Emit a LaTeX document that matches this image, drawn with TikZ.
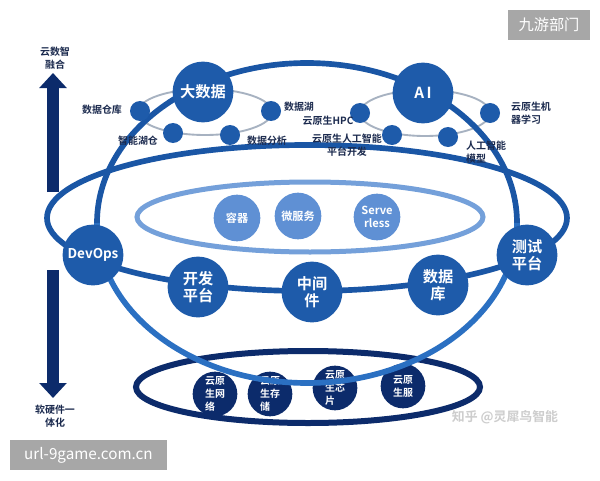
\documentclass[tikz,border=0pt]{standalone}
\usepackage{fontspec}
\setmainfont{Noto Sans CJK SC}[BoldFont={Noto Sans CJK SC Bold}]
\usetikzlibrary{arrows.meta}
\definecolor{navy}{HTML}{0C2B6B}
\definecolor{hubblue}{HTML}{1E5BAA}
\definecolor{orbitdark}{HTML}{1A56A5}
\definecolor{orbitlight}{HTML}{2B70C2}
\definecolor{cloudline}{HTML}{74A0DA}
\definecolor{cloudfill}{HTML}{5F90D4}
\definecolor{ringgray}{HTML}{A7B2C1}
\definecolor{labelink}{HTML}{1B2A4E}
\definecolor{stampgray}{HTML}{A7A7A7}
\definecolor{faintgray}{HTML}{CDCDCD}
\tikzset{
  hubnode/.style={circle, fill=hubblue, text=white, minimum size=1.82cm, inner sep=0pt, align=center, font=\bfseries\fontsize{13}{14.5}\selectfont},
  satnode/.style={circle, fill=hubblue, minimum size=0.6cm, inner sep=0pt},
  cloudnode/.style={circle, fill=cloudfill, text=white, minimum size=1.4cm, inner sep=0pt, align=center, font=\bfseries\fontsize{9.5}{11}\selectfont},
  basenode/.style={circle, fill=navy, text=white, minimum size=1.34cm, inner sep=0pt, align=left, font=\bfseries\fontsize{8.5}{11}\selectfont},
  ringlabel/.style={text=labelink, align=center, inner sep=0pt, font=\bfseries\fontsize{8.5}{11.5}\selectfont},
  axislabel/.style={text=labelink, align=center, inner sep=0pt, font=\bfseries\fontsize{8.5}{11}\selectfont},
  ringorbit/.style={draw=ringgray, line width=1.6pt},
  cloudorbit/.style={draw=cloudline, line width=0.15cm},
  equator/.style={draw=orbitdark, line width=0.17cm},
  baseorbit/.style={draw=navy, line width=0.18cm},
  trendarrow/.style={draw=navy, line width=0.36cm, -{Triangle[width=0.8cm,length=0.45cm]}},
  stamp/.style={fill=stampgray, text=white, inner sep=0pt, minimum height=0.9cm, font=\fontsize{13}{15}\selectfont},
  faintmark/.style={text=faintgray, inner sep=0pt, font=\bfseries\fontsize{11}{13}\selectfont}
}
\begin{document}
\begin{tikzpicture}[x=0.03cm,y=-0.03cm]
\useasboundingbox[fill=white] (0,0) rectangle (600,480);
\draw[baseorbit] (308,387) ellipse [x radius=172, y radius=36];
\node[basenode] (net) at (215,394) {云原\\生网\\络};
\node[basenode] (store) at (270,394) {云原\\生存\\储};
\node[basenode] (chip) at (335,388) {云原\\生芯\\片};
\node[basenode] (service) at (403,386) {云原\\生服};
\draw[cloudorbit] (310,217) ellipse [x radius=173, y radius=35];
\node[cloudnode] (container) at (237,218) {容器};
\node[cloudnode] (micro) at (298,216) {微服务};
\node[cloudnode] (serverless) at (377,217) {Serve\\rless};
\draw[ringorbit] (205,112) ellipse [x radius=67, y radius=23];
\draw[ringorbit] (425,113) ellipse [x radius=65, y radius=23];
\draw[equator] (307,218) ellipse [x radius=260, y radius=73];
\draw[draw=orbitdark, line width=0.17cm] (97,223) arc [start angle=180, end angle=360, x radius=210, y radius=160];
\draw[draw=orbitlight, line width=0.17cm] (517,223) arc [start angle=0, end angle=180, x radius=210, y radius=160];
\node[satnode] (warehouse) at (140,111) {};
\node[satnode] (lakehouse) at (173,133) {};
\node[satnode] (analysis) at (230,135) {};
\node[satnode] (lake) at (271,111) {};
\node[satnode] (hpc) at (360,113) {};
\node[satnode] (aiplat) at (392,135) {};
\node[satnode] (aimodel) at (448,137) {};
\node[satnode] (ml) at (490,113) {};
\node[ringlabel] (warehousetext) at (102,110) {数据仓库};
\node[ringlabel] (lakehousetext) at (138,141) {智能湖仓};
\node[ringlabel] (analysistext) at (267,141) {数据分析};
\node[ringlabel] (laketext) at (299,107) {数据湖};
\node[ringlabel] (hpctext) at (328,121) {云原生HPC};
\node[ringlabel] (aiplattext) at (347,145) {云原生人工智能\\平台开发};
\node[ringlabel, align=left] (mltext) at (531,113) {云原生机\\器学习};
\node[ringlabel, align=left, anchor=west] (aimodeltext) at (466,152) {人工智能\\模型};
\node[hubnode] (bigdata) at (203,92) {大数据};
\node[hubnode] (ai) at (423,93) {A\,I};
\node[hubnode, font=\bfseries\fontsize{11.5}{13}\selectfont] (devops) at (93,255) {DevOps};
\node[hubnode] (devplat) at (198,287) {开发\\平台};
\node[hubnode] (middleware) at (312,292) {中间\\件};
\node[hubnode] (database) at (438,285) {数据\\库};
\node[hubnode] (testplat) at (527,255) {测试\\平台};
\coordinate (upfoot) at (53,192);
\coordinate (uptip) at (53,73);
\coordinate (downfoot) at (53,270);
\coordinate (downtip) at (53,398);
\draw[trendarrow] (upfoot) -- (uptip);
\draw[trendarrow] (downfoot) -- (downtip);
\node[axislabel] (fusion) at (55,58) {云数智\\融合};
\node[axislabel] (integration) at (55,416) {软硬件一\\体化};
\node[stamp, minimum width=2.46cm] (jiuyou) at (549,25) {九游部门};
\node[stamp, minimum width=4.71cm] (url) at (88.5,455) {url-9game.com.cn};
\node[faintmark] (zhihu) at (505,417) {知乎 @灵犀鸟智能};
\end{tikzpicture}
\end{document}
